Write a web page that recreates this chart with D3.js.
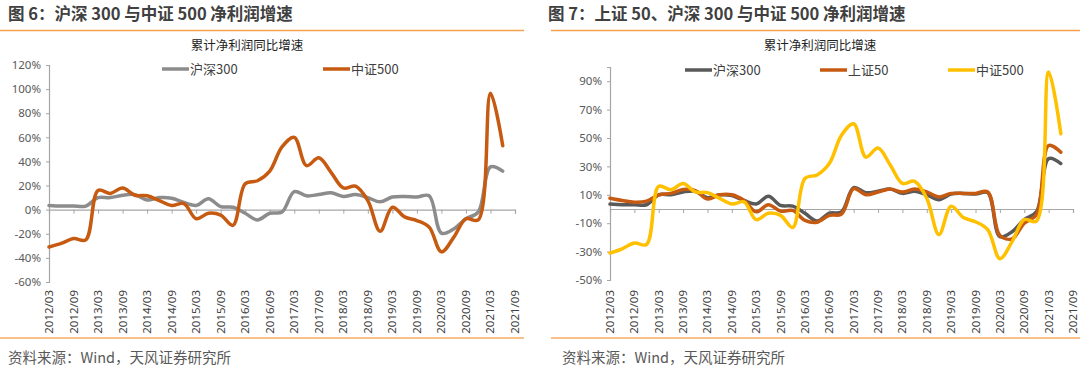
<!DOCTYPE html>
<html><head><meta charset="utf-8">
<script src="https://cdn.jsdelivr.net/npm/d3@7"></script>
<style>body{margin:0;background:#fff}svg{display:block;font-family:"Noto Sans CJK SC","Noto Sans",sans-serif}</style>
</head><body>
<svg id="c" width="1080" height="374"></svg>
<script>
const quarters = [];
for (let y = 2012; y <= 2021; y++) for (const m of ["03","06","09","12"]) quarters.push(y + "/" + m);
const axisCats = quarters.slice(0, 39); // 2012/03 .. 2021/09
const tickLabels = axisCats.filter((d, i) => i % 2 === 0);

const hs300 = [3.5,3,3,3,10,10,12,12.5,8,10,9.5,6,3.5,9,2.5,2,-3,-8.5,-3,-2,15,11.5,12.5,14,11,12.5,10,6.5,10.5,11,10.5,11.5,-19.5,-16,-7.5,-2,35.5,32];
const zz500 = [-31,-28,-24,-25,16,13.5,18,12,11.5,7.5,3.5,5,-7.5,-3,-4.5,-13,21.5,24,32,52,60,36.5,43,31,18,19.5,7.5,-18,2,-6,-9,-14.5,-35,-23,-7.5,-8.5,96.5,53];
const sz50 = [7.6,6,4.8,5.5,10,11,13.7,13,7,10,10,6,-2,3,-1.5,-1,-8,-9.3,-4.5,-3.5,14.4,10,12,14,12,14,12,8.5,11,11,11,12,-18.7,-21,-10,-4,44.7,40];

const leftTicks = [-60,-40,-20,0,20,40,60,80,100,120];
const rightTicks = [-50,-30,-10,10,30,50,70,90];

const svg = d3.select("#c");
const txt = "#404040";

function panel(o) {
  const g = svg.append("g");
  g.append("text").attr("x", o.x0 + 8).attr("y", 19.5).attr("font-size", 16.5).attr("font-weight", "bold")
    .attr("fill", txt).text(o.title);
  g.append("line").attr("x1", o.lineX1).attr("x2", o.lineX2).attr("y1", 30.5).attr("y2", 30.5)
    .attr("stroke", "#F4A04C").attr("stroke-width", 1.5);
  g.append("line").attr("x1", o.lineX1).attr("x2", o.lineX2).attr("y1", 338).attr("y2", 338)
    .attr("stroke", "#F9C08C").attr("stroke-width", 2);
  g.append("text").attr("x", o.srcX).attr("y", 363).attr("font-size", 14.5).attr("fill", "#595959")
    .text("资料来源：Wind，天风证券研究所");
  g.append("text").attr("x", o.subX).attr("y", 50).attr("text-anchor", "middle").attr("font-size", 12.5)
    .attr("fill", "#222").text("累计净利润同比增速");

  const x = d3.scalePoint().domain(axisCats).range([o.axX, o.axX2]);
  const y = d3.scaleLinear().domain(o.yDomain).range([o.yBottom, o.yTop]);

  const ya = g.append("g").attr("transform", `translate(${o.axX},0)`)
    .call(d3.axisLeft(y).tickValues(o.yTicks).tickSize(3).tickPadding(5).tickFormat(d => d + "%"));
  ya.select(".domain").attr("stroke", "#A6A6A6").attr("stroke-width", 1.2);
  ya.selectAll(".tick line").attr("stroke", "#A6A6A6");
  ya.selectAll(".tick text").attr("font-size", 11.5).attr("fill", "#595959").attr("font-family", "Noto Sans, sans-serif");

  const xa = g.append("g").attr("transform", `translate(0,${y(0)})`)
    .call(d3.axisBottom(x).tickValues(tickLabels).tickSize(4).tickFormat(""));
  xa.select(".domain").attr("stroke", "#A6A6A6").attr("stroke-width", 1.2);
  xa.selectAll(".tick line").attr("stroke", "#A6A6A6");

  g.selectAll(null).data(tickLabels).join("text")
    .attr("transform", d => `translate(${x(d) + 4},290) rotate(-90)`)
    .attr("text-anchor", "end").attr("font-size", 11.5).attr("fill", "#404040")
    .attr("font-family", "Noto Sans, sans-serif").text(d => d);

  const line = d3.line().x((d, i) => x(quarters[i])).y(d => y(d)).curve(d3.curveCatmullRom.alpha(0.5));
  o.series.forEach(s => {
    g.append("path").datum(s.values).attr("d", line).attr("fill", "none")
      .attr("stroke", s.color).attr("stroke-width", 3.5).attr("stroke-linejoin", "round").attr("stroke-linecap", "round");
  });
  o.series.forEach(s => {
    g.append("line").attr("x1", s.lx).attr("x2", s.lx + 27).attr("y1", o.legY).attr("y2", o.legY)
      .attr("stroke", s.color).attr("stroke-width", 3.5);
    g.append("text").attr("x", s.lx + 28).attr("y", o.legY + 4.5).attr("font-size", 13).attr("fill", "#404040").text(s.name);
  });
}

panel({
  x0: 0, title: "图 6：沪深 300 与中证 500 净利润增速", lineX1: 0, lineX2: 524, srcX: 8, subX: 247,
  axX: 49, axX2: 515, yDomain: [-60, 120], yTop: 65, yBottom: 282, yTicks: leftTicks, legY: 69,
  series: [
    {name: "沪深300", values: hs300, color: "#8C8C8C", lx: 162},
    {name: "中证500", values: zz500, color: "#C65A11", lx: 323}
  ]
});
panel({
  x0: 540, title: "图 7：上证 50、沪深 300 与中证 500 净利润增速", lineX1: 551, lineX2: 1080, srcX: 562, subX: 820,
  axX: 610, axX2: 1073, yDomain: [-50, 100], yTop: 67, yBottom: 280, yTicks: rightTicks, legY: 70,
  series: [
    {name: "沪深300", values: hs300, color: "#595959", lx: 685},
    {name: "上证50", values: sz50, color: "#C65A11", lx: 820},
    {name: "中证500", values: zz500, color: "#FFC000", lx: 948}
  ]
});
</script>
</body></html>
